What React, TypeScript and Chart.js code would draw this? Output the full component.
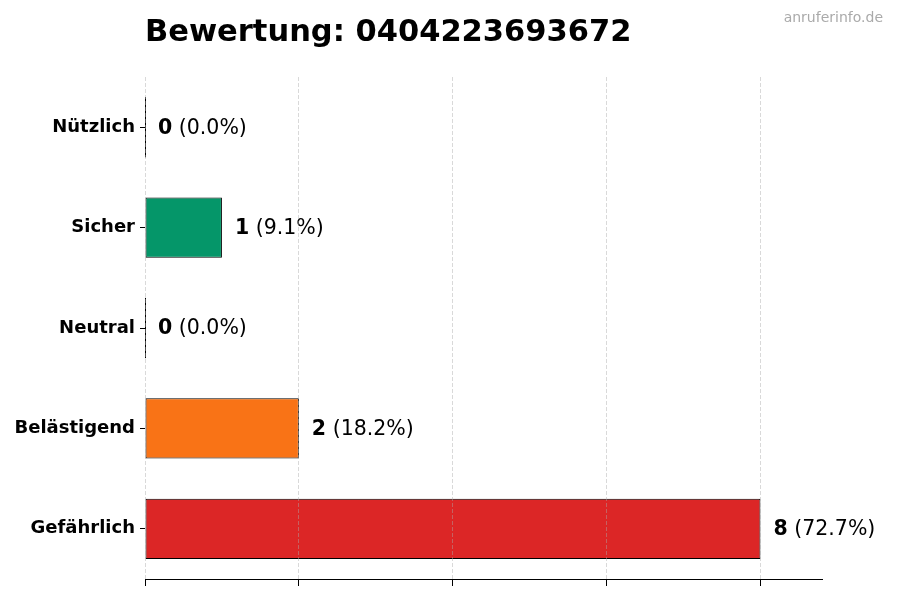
import { useEffect, useRef } from "react"
import { Chart, registerables } from "chart.js"

Chart.register(...registerables)

const categories = ["Nützlich", "Sicher", "Neutral", "Belästigend", "Gefährlich"]
const counts = [0, 1, 0, 2, 8]
const barColors = ["#2563eb", "#059669", "#6b7280", "#f97316", "#dc2626"]
const xTicks = [0, 2, 4, 6, 8]
const xMax = 8.8
const title = "Bewertung: 0404223693672"
const watermark = "anruferinfo.de"

const FONT = "'DejaVu Sans', sans-serif"

// value labels, zero-width bar outlines, title and watermark
const overlayPlugin = {
  id: "overlay",
  afterDatasetsDraw(chart: any) {
    const ctx = chart.ctx
    const meta = chart.getDatasetMeta(0)
    const total = counts.reduce((a, b) => a + b, 0)
    ctx.save()
    meta.data.forEach((el: any, i: number) => {
      const v = counts[i]
      const h = el.height
      if (v === 0) {
        const bx = Math.floor(el.base) + 0.5
        ctx.strokeStyle = "#000"
        ctx.lineWidth = 1
        ctx.beginPath()
        ctx.moveTo(bx, el.y - h / 2)
        ctx.lineTo(bx, el.y + h / 2)
        ctx.stroke()
      }
      const x = el.x + 13
      ctx.textBaseline = "middle"
      ctx.textAlign = "left"
      ctx.fillStyle = "#000"
      ctx.font = `bold 20.5px ${FONT}`
      const num = String(v)
      ctx.fillText(num, x, el.y + 1)
      const w = ctx.measureText(num).width
      ctx.font = `20.5px ${FONT}`
      const pct = total ? ((v / total) * 100).toFixed(1) : "0.0"
      ctx.fillText(` (${pct}%)`, x + w, el.y + 1)
    })
    ctx.restore()
  },
  afterDraw(chart: any) {
    const ctx = chart.ctx
    ctx.save()
    ctx.textBaseline = "alphabetic"
    ctx.textAlign = "left"
    ctx.fillStyle = "#000"
    ctx.font = `bold 30.5px ${FONT}`
    ctx.fillText(title, chart.chartArea.left, 41)
    ctx.textAlign = "right"
    ctx.fillStyle = "#aaaaaa"
    ctx.font = `14px ${FONT}`
    ctx.fillText(watermark, 883, 22)
    ctx.restore()
  },
}

export default function App() {
  const chartRef = useRef<HTMLCanvasElement>(null)
  const chartInstance = useRef<Chart | null>(null)

  useEffect(() => {
    if (!chartRef.current) return
    const ctx = chartRef.current.getContext("2d")
    if (!ctx) return
    if (chartInstance.current) chartInstance.current.destroy()

    chartInstance.current = new Chart(ctx, {
      type: "bar",
      data: {
        labels: categories,
        datasets: [
          {
            data: counts,
            backgroundColor: barColors,
            borderColor: "#000",
            borderWidth: 1,
            borderSkipped: false,
            barPercentage: 0.6,
            categoryPercentage: 1,
          },
        ],
      },
      options: {
        indexAxis: "y",
        responsive: false,
        animation: false,
        devicePixelRatio: 1,
        layout: { padding: { top: 77, right: 78, left: 0, bottom: 0 } },
        scales: {
          x: {
            min: 0,
            max: xMax,
            afterBuildTicks: (scale: any) => {
              scale.ticks = xTicks.map((v) => ({ value: v }))
            },
            afterFit: (scale: any) => {
              scale.height = 21
            },
            ticks: { display: false },
            grid: {
              color: "rgba(170,170,170,0.45)",
              lineWidth: 1,
              z: 1,
              drawTicks: true,
              tickLength: 7,
              tickColor: "#000",
              tickWidth: 1,
              tickBorderDash: [],
            },
            border: { display: true, color: "#000", width: 1, dash: [4, 2], z: 1 },
          },
          y: {
            afterFit: (scale: any) => {
              scale.width = 145
            },
            ticks: {
              color: "#000",
              padding: 5,
              font: { family: FONT, size: 18, weight: "bold" },
            },
            grid: {
              offset: false,
              drawOnChartArea: false,
              drawTicks: true,
              tickLength: 5,
              tickColor: "#000",
              tickWidth: 1,
            },
            border: { display: false },
          },
        },
        plugins: {
          legend: { display: false },
          tooltip: { enabled: false },
        },
      },
      plugins: [overlayPlugin],
    } as any)

    return () => {
      if (chartInstance.current) {
        chartInstance.current.destroy()
        chartInstance.current = null
      }
    }
  }, [])

  return (
    <div style={{ position: "absolute", left: 0, top: 0, width: 900, height: 600, background: "#fff" }}>
      <canvas ref={chartRef} width={900} height={600} style={{ display: "block" }}></canvas>
    </div>
  )
}
